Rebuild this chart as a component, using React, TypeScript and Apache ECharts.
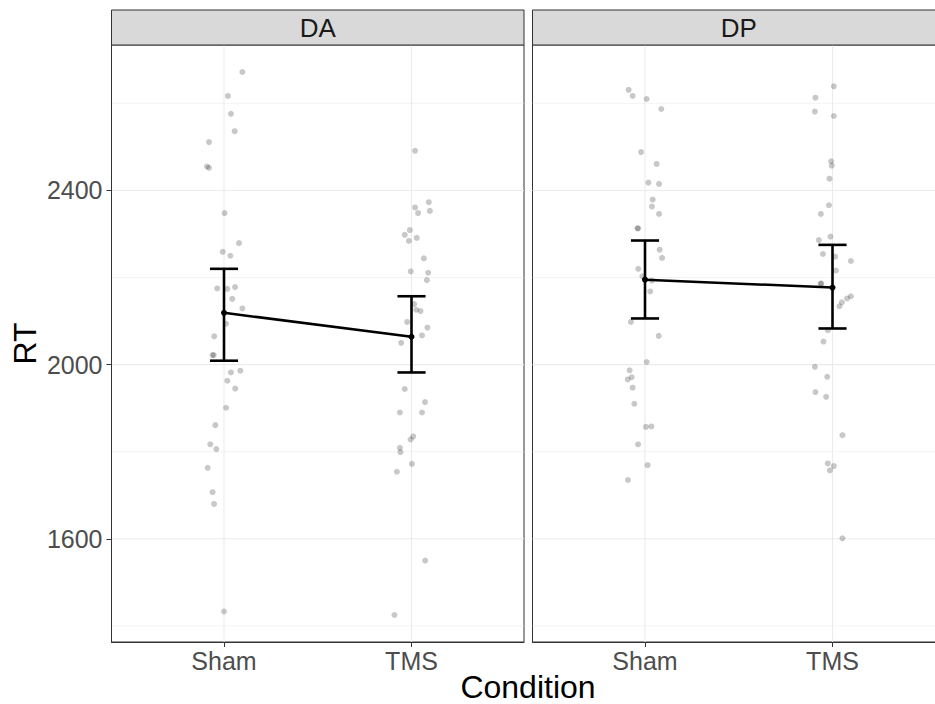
import React, { useEffect, useRef } from "react";
import * as echarts from "echarts";

const categories = ["Sham", "TMS"];
const panels = ["DA", "DP"];
const yTickValues = [1600, 2000, 2400];
const yMajorGrid = [1600, 2000, 2400];
const yMinorGrid = [1400, 1800, 2200, 2600];
const xPositions = [1, 2];

// DA panel, Sham condition: RT values and horizontal jitter (category units)
const daShamRT = [2672, 2617, 2576, 2536, 2511, 2455, 2452, 2348, 2279, 2259, 2250, 2175, 2174, 2178, 2151, 2129, 2094, 2065, 2022, 2022, 1982, 1986, 1963, 1945, 1901, 1861, 1817, 1806, 1763, 1707, 1680, 1433];
const daShamJitter = [0.098, 0.021, 0.037, 0.057, -0.08, -0.091, -0.08, 0.003, 0.08, -0.007, 0.034, -0.036, 0.018, 0.059, 0.044, 0.098, 0.011, -0.052, -0.061, -0.055, 0.037, 0.087, 0.018, 0.06, 0.011, -0.046, -0.073, -0.041, -0.087, -0.061, -0.053, 0.0];
// DA panel, TMS condition
const daTmsRT = [2491, 2373, 2361, 2348, 2353, 2309, 2298, 2291, 2284, 2244, 2214, 2211, 2194, 2139, 2126, 2123, 2098, 2085, 2067, 2050, 1944, 1914, 1890, 1890, 1835, 1828, 1809, 1799, 1772, 1754, 1550, 1425];
const daTmsJitter = [0.019, 0.092, 0.019, 0.035, 0.098, -0.009, -0.036, 0.028, -0.014, 0.066, -0.004, 0.089, 0.082, 0.014, 0.025, 0.048, -0.023, 0.085, 0.056, -0.055, -0.036, 0.072, -0.062, 0.056, 0.009, -0.005, -0.062, -0.059, 0.002, -0.078, 0.073, -0.091];
// DP panel, Sham condition
const dpShamRT = [2631, 2617, 2610, 2587, 2488, 2461, 2418, 2415, 2379, 2363, 2346, 2313, 2313, 2264, 2245, 2220, 2203, 2193, 2168, 2098, 2066, 2006, 1987, 1971, 1966, 1947, 1910, 1857, 1858, 1817, 1769, 1735];
const dpShamJitter = [-0.087, -0.066, 0.009, 0.087, -0.021, 0.062, 0.018, 0.075, 0.041, 0.037, 0.075, -0.04, -0.037, 0.078, 0.091, -0.036, -0.014, 0.037, 0.028, -0.075, 0.073, 0.009, -0.082, -0.071, -0.092, -0.066, -0.057, 0.005, 0.034, -0.037, 0.014, -0.091];
// DP panel, TMS condition
const dpTmsRT = [2639, 2613, 2581, 2571, 2467, 2457, 2427, 2366, 2346, 2294, 2286, 2254, 2248, 2238, 2216, 2186, 2186, 2152, 2157, 2143, 2134, 2079, 2053, 1995, 1972, 1937, 1926, 1838, 1773, 1767, 1757, 1601];
const dpTmsJitter = [0.007, -0.091, -0.094, 0.007, -0.007, -0.004, -0.016, -0.019, -0.062, -0.011, -0.073, -0.051, 0.014, 0.098, 0.018, -0.063, -0.06, 0.078, 0.098, 0.05, 0.037, -0.025, -0.048, -0.094, -0.028, -0.091, -0.034, 0.053, -0.025, 0.007, -0.014, 0.053];

// Summary (mean and error bar bounds) per panel, in category order
const daMean = [2119, 2064];
const daLower = [2009, 1982];
const daUpper = [2220, 2157];
const dpMean = [2195, 2177];
const dpLower = [2106, 2083];
const dpUpper = [2285, 2275];

const Y_MIN = 1363;
const Y_MAX = 2734;
const X_MIN = 0.4;
const X_MAX = 2.6;

const FONT = "'Liberation Sans', Arial, Helvetica, sans-serif";

const GRID_TOP = 45;
const GRID_H = 597;
const GRID_W = 412.5;
const GRID_LEFTS = [111.5, 532.5];

function points(rt: number[], jitter: number[], pos: number) {
  return rt.map((v, i) => [pos + jitter[i], v]);
}

export default function App() {
  const ref = useRef<HTMLDivElement>(null);

  useEffect(() => {
    document.body.style.margin = "0";
    if (!ref.current) return;
    const chart = echarts.init(ref.current, undefined, { renderer: "svg" });

    const panelData = [
      {
        sham: points(daShamRT, daShamJitter, xPositions[0]),
        tms: points(daTmsRT, daTmsJitter, xPositions[1]),
        mean: daMean,
        lower: daLower,
        upper: daUpper,
      },
      {
        sham: points(dpShamRT, dpShamJitter, xPositions[0]),
        tms: points(dpTmsRT, dpTmsJitter, xPositions[1]),
        mean: dpMean,
        lower: dpLower,
        upper: dpUpper,
      },
    ];

    const gridLineData: number[][] = [
      ...yMinorGrid.map((v) => [v, 0, 0.6]),
      ...yMajorGrid.map((v) => [v, 0, 1.1]),
      ...xPositions.map((v) => [v, 1, 1.1]),
    ];

    const series: any[] = [];
    panelData.forEach((p, gi) => {
      series.push({
        type: "custom",
        xAxisIndex: gi,
        yAxisIndex: gi,
        silent: true,
        z: 0,
        data: gridLineData,
        encode: { x: 0, y: 0 },
        renderItem: (params: any, api: any) => {
          const v = api.value(0);
          const kind = api.value(1);
          const w = api.value(2);
          let a, b;
          if (kind === 0) {
            a = api.coord([X_MIN, v]);
            b = api.coord([X_MAX, v]);
          } else {
            a = api.coord([v, Y_MIN]);
            b = api.coord([v, Y_MAX]);
          }
          return {
            type: "line",
            shape: { x1: a[0], y1: a[1], x2: b[0], y2: b[1] },
            style: { stroke: "#EBEBEB", lineWidth: w },
          };
        },
      });
      series.push({
        type: "scatter",
        xAxisIndex: gi,
        yAxisIndex: gi,
        z: 2,
        symbol: "circle",
        symbolSize: 6,
        itemStyle: { color: "rgba(0,0,0,0.27)" },
        data: [...p.sham, ...p.tms],
      });
      series.push({
        type: "line",
        xAxisIndex: gi,
        yAxisIndex: gi,
        z: 3,
        symbol: "circle",
        symbolSize: 6,
        lineStyle: { color: "#000", width: 2.5 },
        itemStyle: { color: "#000" },
        data: xPositions.map((x, i) => [x, p.mean[i]]),
      });
      series.push({
        type: "custom",
        xAxisIndex: gi,
        yAxisIndex: gi,
        z: 4,
        data: xPositions.map((x, i) => [x, p.lower[i], p.upper[i]]),
        encode: { x: 0, y: [1, 2] },
        renderItem: (params: any, api: any) => {
          const x = api.value(0);
          const lo = api.coord([x, api.value(1)]);
          const hi = api.coord([x, api.value(2)]);
          const half = api.size([0.075, 0])[0];
          const st = { stroke: "#000", lineWidth: 2.6 };
          return {
            type: "group",
            children: [
              { type: "line", shape: { x1: lo[0], y1: lo[1], x2: hi[0], y2: hi[1] }, style: st },
              { type: "line", shape: { x1: hi[0] - half, y1: hi[1], x2: hi[0] + half, y2: hi[1] }, style: st },
              { type: "line", shape: { x1: lo[0] - half, y1: lo[1], x2: lo[0] + half, y2: lo[1] }, style: st },
            ],
          };
        },
      });
    });

    const grids = GRID_LEFTS.map((left) => ({
      left,
      top: GRID_TOP,
      width: GRID_W,
      height: GRID_H,
      show: true,
      borderColor: "#333333",
      borderWidth: 1,
      backgroundColor: "transparent",
      outerBoundsMode: "none",
      containLabel: false,
    }));

    const xAxes = GRID_LEFTS.map((_, gi) => ({
      type: "value",
      gridIndex: gi,
      min: X_MIN,
      max: X_MAX,
      splitLine: { show: false },
      axisLine: { show: true, onZero: false, lineStyle: { color: "#333333", width: 1 } },
      axisTick: {
        show: true,
        customValues: xPositions,
        length: 5,
        lineStyle: { color: "#333333", width: 1 },
      },
      axisLabel: {
        customValues: xPositions,
        formatter: (v: number) => categories[Math.round(v) - 1] ?? "",
        fontSize: 25,
        color: "#4D4D4D",
        fontFamily: FONT,
        margin: 6,
      },
    }));

    const yAxes = GRID_LEFTS.map((_, gi) => ({
      type: "value",
      gridIndex: gi,
      min: Y_MIN,
      max: Y_MAX,
      splitLine: { show: false },
      axisLine: { show: gi === 0, lineStyle: { color: "#333333", width: 1 } },
      axisTick: {
        show: gi === 0,
        customValues: yTickValues,
        length: 5,
        lineStyle: { color: "#333333", width: 1 },
      },
      axisLabel: {
        show: gi === 0,
        customValues: yTickValues,
        formatter: (v: number) => String(v),
        fontSize: 25,
        color: "#4D4D4D",
        fontFamily: FONT,
        margin: 9,
      },
    }));

    const graphic: any[] = [];
    GRID_LEFTS.forEach((left, gi) => {
      graphic.push({
        type: "rect",
        shape: { x: left, y: 10, width: GRID_W, height: 35 },
        style: { fill: "#D9D9D9", stroke: "#333333", lineWidth: 1 },
        z: 10,
      });
      graphic.push({
        type: "text",
        x: left + GRID_W / 2,
        y: 28,
        style: {
          text: panels[gi],
          fontSize: 26,
          fontFamily: FONT,
          fill: "#1A1A1A",
          align: "center",
          verticalAlign: "middle",
        },
        z: 11,
      });
    });
    graphic.push({
      type: "text",
      x: 25,
      y: 343.5,
      rotation: Math.PI / 2,
      style: {
        text: "RT",
        fontSize: 32,
        fontFamily: FONT,
        fill: "#000",
        align: "center",
        verticalAlign: "middle",
      },
    });
    graphic.push({
      type: "text",
      x: 528,
      y: 687,
      style: {
        text: "Condition",
        fontSize: 32,
        lineHeight: 30,
        fontFamily: FONT,
        fill: "#000",
        align: "center",
        verticalAlign: "middle",
      },
    });

    chart.setOption({
      animation: false,
      backgroundColor: "#fff",
      grid: grids,
      xAxis: xAxes,
      yAxis: yAxes,
      series,
      graphic,
    });

    return () => chart.dispose();
  }, []);

  return <div ref={ref} style={{ width: 935, height: 704 }} />;
}
